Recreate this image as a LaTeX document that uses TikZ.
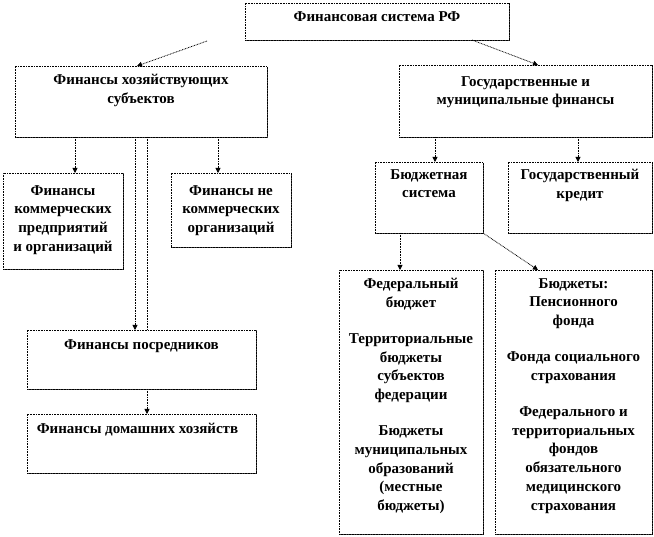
\documentclass[tikz,border=0pt]{standalone}
\usepackage{fontspec}
\setmainfont{Liberation Serif}
\usetikzlibrary{arrows.meta,calc,shadows}
\begin{document}
\begin{tikzpicture}[x=1pt,y=-1pt,
  boxst/.style={draw=black, fill=white, dash pattern=on 0.8pt off 0.8pt, line width=0.8pt,
    inner sep=0pt, outer sep=0pt, anchor=north west,
    drop shadow={shadow xshift=1.2pt, shadow yshift=-1.2pt, fill=black!75, opacity=1}},
  txt/.style={anchor=north, inner sep=0pt, align=center,
    font=\fontsize{15}{18.7}\selectfont\bfseries},
  conn/.style={draw=black, dash pattern=on 0.8pt off 0.8pt, line width=0.8pt},
  arr/.style={conn, -{Triangle[length=5pt,width=5pt,fill=black]}}]
\useasboundingbox (0,0) rectangle (654,537);
% boxes
\node[boxst, minimum width=264, minimum height=37] (top) at (245,3) {};
\node[boxst, minimum width=252, minimum height=71] (hoz) at (15,66) {};
\node[boxst, minimum width=253, minimum height=72] (gos) at (399,65) {};
\node[boxst, minimum width=120, minimum height=96] (kom) at (3,173) {};
\node[boxst, minimum width=120, minimum height=74] (nekom) at (171,173) {};
\node[boxst, minimum width=229, minimum height=59] (posr) at (27,330) {};
\node[boxst, minimum width=229, minimum height=59] (dom) at (27,414) {};
\node[boxst, minimum width=108, minimum height=71] (bud) at (375,162) {};
\node[boxst, minimum width=144, minimum height=71] (kred) at (508,162) {};
\node[boxst, minimum width=144, minimum height=264] (fed) at (339,270) {};
\node[boxst, minimum width=157, minimum height=264] (bjud) at (495,270) {};
% texts
\node[txt] (ttop) at ($(top.north)+(0,8)$) {Финансовая система РФ};
\node[txt] (thoz) at ($(hoz.north)+(0,8)$) {Финансы хозяйствующих\\субъектов};
\node[txt] (tgos) at ($(gos.north)+(0,11)$) {Государственные и\\муниципальные финансы};
\node[txt] (tkom) at ($(kom.north)+(0,12)$) {Финансы\\коммерческих\\предприятий\\и организаций};
\node[txt] (tnekom) at ($(nekom.north)+(0,12)$) {Финансы не\\коммерческих\\организаций};
\node[txt] (tposr) at ($(posr.north)+(0,9)$) {Финансы посредников};
\node[txt] (tdom) at ($(dom.north)+(-4,9)$) {Финансы домашних хозяйств};
\node[txt] (tbud) at ($(bud.north)+(0,7)$) {Бюджетная\\система};
\node[txt] (tkred) at ($(kred.north)+(0,7)$) {Государственный\\кредит};
\node[txt] (tfed) at ($(fed.north)+(0,8)$) {Федеральный\\бюджет\\[17.5pt]Территориальные\\бюджеты\\субъектов\\федерации\\[17.5pt]Бюджеты\\муниципальных\\образований\\(местные\\бюджеты)};
\node[txt] (tbjud) at ($(bjud.north)+(0,8)$) {Бюджеты:\\Пенсионного\\фонда\\[17.5pt]Фонда социального\\страхования\\[17.5pt]Федерального и\\территориальных\\фондов\\обязательного\\медицинского\\страхования};
% connectors
\coordinate (c1) at (207,41);
\draw[arr] (c1) -- ($(hoz.north west)+(122,0)$);
\draw[arr] ($(top.south west)+(227,0)$) -- ($(gos.north west)+(139,0)$);
\draw[arr] ($(hoz.south west)+(60,0)$) -- ($(kom.north west)+(72,0)$);
\draw[arr] ($(hoz.south west)+(203,0)$) -- ($(nekom.north west)+(47,0)$);
\draw[arr] ($(hoz.south west)+(120,0)$) -- ($(posr.north west)+(108,0)$);
\draw[conn] ($(hoz.south west)+(132,0)$) -- ($(posr.north west)+(120,0)$);
\draw[arr] ($(posr.south west)+(120,0)$) -- ($(dom.north west)+(120,0)$);
\draw[arr] ($(gos.south west)+(36,0)$) -- ($(bud.north west)+(60,0)$);
\draw[arr] ($(gos.south west)+(179,0)$) -- ($(kred.north west)+(70,0)$);
\draw[arr] ($(bud.south west)+(25,0)$) -- ($(fed.north west)+(61,0)$);
\draw[arr] (bud.south east) -- ($(bjud.north west)+(43,0)$);
\end{tikzpicture}
\end{document}
